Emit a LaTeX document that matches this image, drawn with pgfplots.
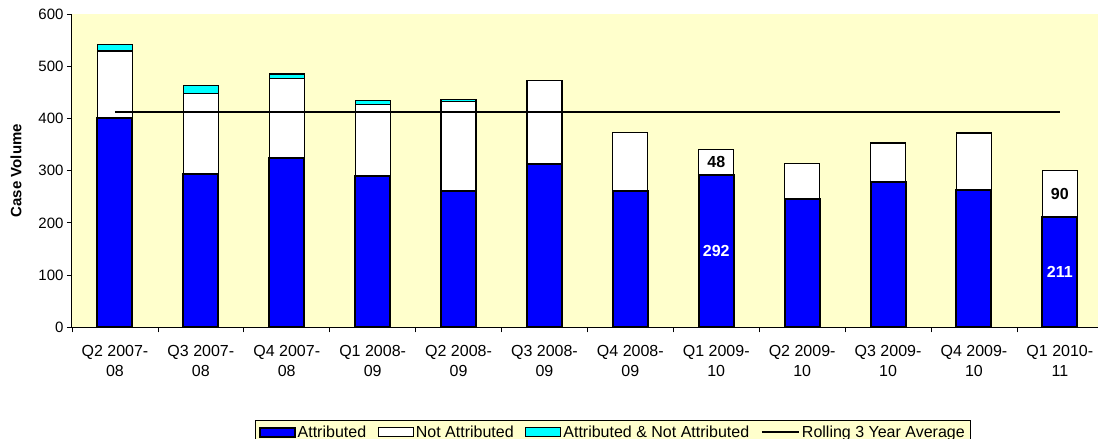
\documentclass[border=0pt]{standalone}
\usepackage{pgfplots}
\pgfplotsset{compat=1.18}
\usepackage{fontspec}
\setmainfont{Liberation Sans}
\definecolor{bgy}{RGB}{255,255,204}
\definecolor{attr}{RGB}{0,0,255}
\definecolor{both}{RGB}{0,255,255}
\pgfplotsset{
 barleg/.style={legend image code/.code={\draw[##1] (0pt,-4.5pt) rectangle (35pt,4.5pt);}},
 linleg/.style={legend image code/.code={\draw[##1] (0pt,0pt) -- (37pt,0pt);}},
 base/.style={
  scale only axis, width=1030.8pt, height=313.3pt,
  at={(72pt,111.7pt)}, anchor=south west,
  xmin=-0.5, xmax=11.5, ymin=0, ymax=600,
 }
}
\begin{document}
\begin{tikzpicture}
\useasboundingbox (0,0) rectangle (1098pt,439pt);
\begin{axis}[base,
  ybar stacked, bar width=35pt,
  axis background/.style={fill=bgy},
  axis lines*=left, axis line style={-, black, line width=1pt},
  font=\fontsize{15}{20}\selectfont,
  /pgf/number format/assume math mode=true,
  tick align=outside, major tick length=5pt, minor tick length=5pt,
  tick style={black, line width=0.8pt},
  ytick={0,100,...,600},
  xtick={0,...,11},
  major x tick style={draw=none},
  minor xtick={-0.5,0.5,...,11.5},
  xticklabel style={align=center, font=\fontsize{16}{20}\selectfont, yshift=-9pt},
  xticklabels={{Q2 2007-\\08},{Q3 2007-\\08},{Q4 2007-\\08},{Q1 2008-\\09},{Q2 2008-\\09},{Q3 2008-\\09},{Q4 2008-\\09},{Q1 2009-\\10},{Q2 2009-\\10},{Q3 2009-\\10},{Q4 2009-\\10},{Q1 2010-\\11}},
  ylabel={Case Volume},
  ylabel style={font=\bfseries\fontsize{15}{18}\selectfont, at={(axis description cs:-0.0543,0.5)}, anchor=center},
  legend style={at={(0.1775,-0.296)}, anchor=north west, legend columns=-1, draw=black, fill=bgy,
    font=\fontsize{16}{19}\selectfont, inner sep=3.5pt,
    /tikz/every even column/.append style={column sep=9.5pt}},
]
\addplot[draw=black, line width=2pt, fill=attr, barleg]
  coordinates {(0,400) (1,293) (2,324) (3,290) (4,261) (5,312) (6,261) (7,292) (8,246) (9,278) (10,263) (11,211)};
\addlegendentry{Attributed}
\addplot[draw=black, line width=1.2pt, fill=white, barleg]
  coordinates {(0,129) (1,155) (2,153) (3,136) (4,171) (5,160) (6,112) (7,48) (8,68) (9,75) (10,109) (11,90)};
\addlegendentry{Not Attributed}
\addplot[draw=black, line width=1.2pt, fill=both, barleg]
  coordinates {(0,13) (1,15) (2,8) (3,9) (4,5)};
\addlegendentry{Attributed \& Not Attributed}
\addlegendimage{black, line width=2.2pt, linleg}
\addlegendentry{Rolling 3 Year Average}
\end{axis}
\begin{axis}[base, hide axis]
\addplot[black, line width=2.2pt, mark=none] coordinates {(0,412) (11,412)};
\node[font=\bfseries\fontsize{16}{18}\selectfont, text=white] at (axis cs:7,146) {292};
\node[font=\bfseries\fontsize{16}{18}\selectfont, text=black] at (axis cs:7,316) {48};
\node[font=\bfseries\fontsize{16}{18}\selectfont, text=white] at (axis cs:11,105.5) {211};
\node[font=\bfseries\fontsize{16}{18}\selectfont, text=black] at (axis cs:11,256) {90};
\end{axis}
\end{tikzpicture}
\end{document}
